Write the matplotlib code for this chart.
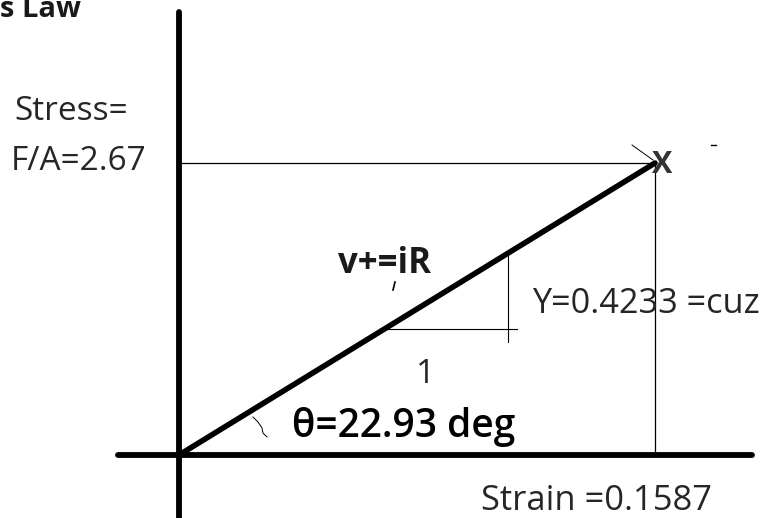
import matplotlib.pyplot as plt

plt.rcParams["font.family"] = ["Open Sans", "DejaVu Sans"]

# =========================
# DATA
# =========================

strain = 0.1587
stress = 2.67
theta_deg = 22.93
young = 0.4233

title_text = "s Law"
stress_labels = ["Stress=", f"F/A={stress}"]
strain_label = f"Strain ={strain}"
slope_label = f"Y={young} =cuz"
theta_label = f"\u03b8={theta_deg} deg"
eq_label = "v+=iR"
run_label = "1"
point_label = "X"

# pixel mapping of the sketch: origin at (179, 455)
PX_X = 476 / strain
PX_Y = 292 / stress


def px(x, y):
    return (x - 179) / PX_X, (455 - y) / PX_Y


# =========================
# FIGURE
# =========================

fig = plt.figure(figsize=(7.68, 5.18), dpi=100)
ax = fig.add_axes([0, 0, 1, 1])
x0, y0 = px(0, 518)
x1, y1 = px(768, 0)
ax.set_xlim(x0, x1)
ax.set_ylim(y0, y1)
ax.axis("off")

# axes of the sketch
vx, vtop = px(179, 12)
_, vbot = px(179, 530)
ax.plot([0, 0], [vbot, vtop], color="black", lw=4.2, solid_capstyle="round")
hl, _ = px(118, 455)
hr, _ = px(752, 455)
ax.plot([hl, hr], [0, 0], color="black", lw=4.2, solid_capstyle="round")

# stress-strain line
ax.plot([0, strain], [0, stress], color="black", lw=4, solid_capstyle="round")

# guide lines to the point
ax.plot([0, strain], [stress, stress], color="black", lw=0.9)
ax.plot([strain, strain], [0, stress], color="black", lw=0.9)

# little stroke near the point and stray dash
a, b = px(632, 145)
c, d = px(653, 160)
ax.plot([a, c], [b, d], color="black", lw=0.7)
a, b = px(711, 145)
c, d = px(716, 145)
ax.plot([a, c], [b, d], color="black", lw=1)

# slope triangle
ty = px(0, 329)[1]
tx_start = ty * strain / stress
tx_end = px(517, 0)[0]
ax.plot([tx_start, tx_end], [ty, ty], color="black", lw=0.8)
vx2 = px(508, 0)[0]
ax.plot([vx2, vx2], [px(0, 342)[1], vx2 * stress / strain], color="black", lw=0.8)

# angle mark
mark_px = [(253, 417), (258, 422), (262, 428), (263, 433), (267, 437)]
mark = [px(x, y) for x, y in mark_px]
ax.plot([m[0] for m in mark], [m[1] for m in mark], color="black", lw=0.7)

# tick under the equation
a, b = px(395, 282)
c, d = px(393, 290)
ax.plot([a, c], [b, d], color="black", lw=1.2)

# =========================
# TEXT
# =========================

txt = dict(color="#262626", va="baseline", ha="left")

ax.text(*px(0, 17), title_text, fontsize=21, fontweight="bold",
        color="#1a1a1a", va="baseline", ha="left")
ax.text(*px(14, 120), stress_labels[0], fontsize=24, **txt)
ax.text(*px(11, 170), stress_labels[1], fontsize=24, **txt)
ax.text(*px(338, 273), eq_label, ha="left", fontsize=25,
        fontweight="bold", color="#1a1a1a", va="baseline")
ax.text(*px(532, 313), slope_label, fontsize=24.7, **txt)
ax.text(*px(426, 383), run_label, ha="center", fontsize=24,
        color="#262626", va="baseline")
ax.text(*px(292, 437), theta_label, ha="left", fontsize=28,
        fontweight="semibold", color="black", va="baseline")
ax.text(*px(481, 510), strain_label, fontsize=24.8, **txt)
ax.text(*px(662, 165), point_label, ha="center", va="center",
        fontsize=22, fontweight="bold", color="#333333")

fig.savefig("out.png", dpi=100)
